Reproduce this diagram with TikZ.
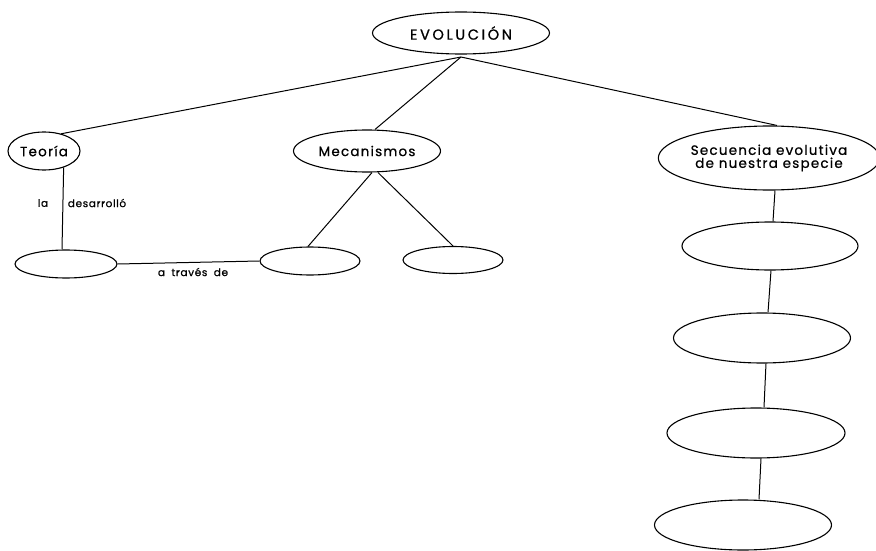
\documentclass[tikz,border=0pt]{standalone}
\usepackage{fontspec}
\setmainfont{Poppins}
\newfontfamily\bubfont[LetterSpace=9,FakeBold=0.8]{Poppins}
\newfontfamily\capfont[LetterSpace=18,FakeBold=0.8]{Poppins}
\newfontfamily\lblfont[LetterSpace=6,FakeBold=0.8]{Poppins}
\usetikzlibrary{shapes.geometric}
\begin{document}
\begin{tikzpicture}[x=1pt,y=-1pt,
  bub/.style={draw,ellipse,line width=1.1pt,inner sep=0pt,font=\bubfont\fontsize{13.5}{14}\selectfont,align=center},
  lbl/.style={font=\lblfont\fontsize{10.5}{12}\selectfont,inner sep=0pt},
  con/.style={line width=1pt}]
\useasboundingbox (0,0) rectangle (876,551);
% nodes
\node[bub,minimum width=177pt,minimum height=42pt,font=\capfont\fontsize{14.5}{15}\selectfont] (evo) at (461,33) {EVOLUCIÓN};
\node[bub,minimum width=72pt,minimum height=38pt] (teo) at (44,151) {Teoría};
\node[bub,minimum width=147pt,minimum height=42pt] (mec) at (367,151) {Mecanismos};
\node[bub,minimum width=208pt,minimum height=64pt] (sec) at (769,158) {Secuencia evolutiva\\[-1pt]de nuestra especie};
\node[bub,minimum width=102pt,minimum height=28pt] (ll) at (66,264) {};
\node[bub,minimum width=100pt,minimum height=28pt] (m1) at (310,261) {};
\node[bub,minimum width=100pt,minimum height=27pt] (m2) at (453,260) {};
\node[bub,minimum width=176pt,minimum height=48pt] (e1) at (770,246) {};
\node[bub,minimum width=177pt,minimum height=50pt] (e2) at (762,338) {};
\node[bub,minimum width=178pt,minimum height=50pt] (e3) at (756,433) {};
\node[bub,minimum width=177pt,minimum height=50pt] (e4) at (743,525) {};
\coordinate (hub) at (461,57);
% connectors
\draw[con] (hub) -- (teo.45);
\draw[con] (hub) -- ([xshift=8pt]mec.north);
\draw[con] (hub) -- ([xshift=8pt]sec.north);
\draw[con] (teo.-40) -- ([xshift=-4pt]ll.north);
\draw[con] (ll.east) -- (m1.west);
\draw[con] ([xshift=5pt]mec.south) -- ([xshift=-2pt]m1.north);
\draw[con] ([xshift=11pt]mec.south) -- (m2.north);
\draw[con] ([xshift=6pt]sec.south) -- ([xshift=3pt]e1.north);
\draw[con] ([xshift=1pt]e1.south) -- ([xshift=6pt]e2.north);
\draw[con] ([xshift=4pt]e2.south) -- ([xshift=8pt]e3.north);
\draw[con] ([xshift=5pt]e3.south) -- ([xshift=16pt]e4.north);
% labels
\node[lbl] (la) at (43,203) {la};
\node[lbl] (des) at (97,203) {desarrolló};
\node[lbl] (atr) at (193,272) {a\hspace{3pt} través\hspace{3pt} de};
\end{tikzpicture}
\end{document}
